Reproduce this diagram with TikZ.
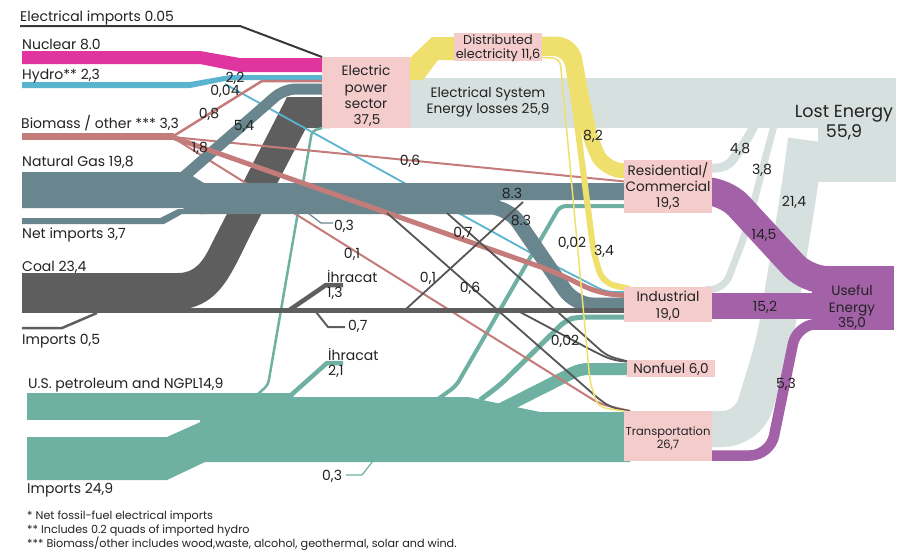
\documentclass[tikz,border=0pt]{standalone}
\usepackage{fontspec}
\setmainfont{Poppins}
\definecolor{ink}{HTML}{222222}
\definecolor{nuc}{HTML}{E0359F}
\definecolor{hyd}{HTML}{5AB4D0}
\definecolor{bio}{HTML}{C47C7A}
\definecolor{gas}{HTML}{69868F}
\definecolor{coal}{HTML}{5E5E5E}
\definecolor{darkln}{HTML}{555555}
\definecolor{pet}{HTML}{6EB1A2}
\definecolor{elec}{HTML}{EFE06D}
\definecolor{boxpink}{HTML}{F4CCCC}
\definecolor{loss}{HTML}{D6E0DE}
\definecolor{use}{HTML}{A362A8}
\begin{document}
\begin{tikzpicture}[x=1pt,y=-1pt,
  every node/.style={inner sep=0pt, text=ink},
  lbl/.style={font=\fontsize{14}{16}\selectfont, anchor=base west},
  num/.style={font=\fontsize{14}{16}\selectfont, anchor=base},
  boxtxt/.style={font=\fontsize{13.6}{16}\selectfont, anchor=base},
  note/.style={font=\fontsize{11.2}{13}\selectfont, anchor=base west},
  sectorbox/.style={fill=boxpink, draw=none}
]
\fill[white] (0,0) rectangle (908,552);
\useasboundingbox (0,0) rectangle (908,552);

% ---------- losses ----------
\fill[loss] (410,78) rectangle (896,128);
\fill[loss] (818,78) rectangle (896,182);
\draw[loss, line width=9pt, rounded corners=10pt] (705,168) -- (727,168) -- (748,138) -- (758,118);
\draw[loss, line width=7pt, rounded corners=14pt] (705,289.5) -- (724,289.5) -- (746,232) -- (768,148) -- (776,118);
\draw[loss, line width=36pt, rounded corners=25pt] (705,429) -- (748,429) -- (775,340) -- (800,185) -- (806,140);

% ---------- electrical imports, nuclear, hydro ----------
\coordinate (eps-tl) at (322,57);
\draw[ink!90, line width=2pt] (20,26) -- (240,26) -- (eps-tl);
\fill[nuc] (22,51) -- (200,51) -- (240,58) -- (330,58) -- (330,72) -- (240,72) -- (200,64) -- (22,64) -- cycle;
\fill[hyd] (22,82) -- (190,82) -- (230,75) -- (330,75) -- (330,80) -- (230,80) -- (190,88) -- (22,88) -- cycle;

% ---------- coal toward power ----------
\fill[coal] (22,273) -- (178,273) .. controls (195,273) and (203,262) .. (212,243) -- (287,97) -- (330,97) -- (330,128) -- (306,128) -- (252,232) .. controls (232,272) and (222,300) .. (190,308) -- (22,308) -- cycle;
\draw[coal, line width=2.5pt] (22,328) -- (62,328) -- (97,313);

% ---------- hydro to industry ----------
\draw[hyd, line width=1.8pt, rounded corners=8pt] (225,84) -- (540,258) -- (606,292) -- (630,292);

% ---------- petroleum ----------
\fill[pet] (27,393) rectangle (205,420);
\fill[pet] (27,437) -- (167,437) -- (205,420) -- (205,462) -- (167,480) -- (27,480) -- cycle;
\fill[pet] (200,393) -- (290,393) -- (294,397) -- (468,397) -- (540,412) -- (630,412) -- (630,462) -- (200,462) -- cycle;
\draw[pet, line width=2.5pt, rounded corners=4pt] (258,394) -- (268,385) -- (312,131) -- (322,128);
\draw[pet, line width=4.5pt] (290,396) -- (327,363) -- (343,363);
\draw[pet, line width=4pt, rounded corners=6pt] (438,399) -- (456,386) -- (560,206) -- (630,206);
\draw[pet, line width=5pt, rounded corners=8pt] (480,400) -- (500,385) -- (566,320) -- (578,317) -- (630,317);
\draw[pet, line width=12pt, rounded corners=8pt] (495,412) -- (580,369) -- (630,369);
\draw[pet, line width=1.2pt] (373,461) -- (362,475) -- (346,475);

% ---------- biomass ----------
\fill[bio] (22,133) rectangle (174,140);
\coordinate (bio-split) at (172,137);
\draw[bio, line width=2.5pt] (bio-split) -- (262,81) -- (330,81);
\draw[bio, line width=2pt] (bio-split) -- (630,182);
\draw[bio, line width=2pt, rounded corners=8pt] (bio-split) -- (600,404) -- (630,411);

% ---------- natural gas ----------
\fill[gas] (22,172) -- (186,172) -- (204,183) -- (630,183) -- (630,200) -- (500,200) -- (500,214) -- (200,214) -- (182,208) -- (22,208) -- cycle;
\fill[gas] (22,218) -- (160,218) -- (178,209) -- (205,209) -- (205,214) -- (182,214) -- (164,224) -- (22,224) -- cycle;
\draw[gas, line width=11pt, rounded corners=12pt] (180,180) -- (284,89) -- (330,89);
\draw[gas, line width=15pt, rounded corners=18pt] (460,207) -- (508,207) -- (575,305) -- (630,305);
\draw[gas, line width=1.2pt] (308,213) -- (321,223) -- (333,223);

\draw[bio, line width=5pt, rounded corners=15pt] (bio-split) -- (555,272) -- (598,293) -- (630,296);

% ---------- thin dark links ----------
\draw[darkln, line width=1.8pt, rounded corners=8pt] (387,213) -- (600,400) -- (612,408) -- (630,411);
\draw[darkln, line width=1.8pt, rounded corners=8pt] (447,213) -- (607,356) -- (630,362);
\draw[darkln, line width=1.8pt, rounded corners=8pt] (520,312) -- (595,352) -- (612,360) -- (630,362);
\draw[darkln, line width=1.8pt] (405,310) -- (523,202);

% ---------- coal line ----------
\draw[coal, line width=5pt] (22,310.5) -- (630,310.5);
\draw[coal, line width=4.5pt] (288,311) -- (326,285) -- (343,285);
\draw[coal, line width=2pt] (316,312) -- (328,327) -- (345,327);

% ---------- electricity distribution ----------
\fill[elec] (410,58) -- (432,37) -- (456,37) -- (456,60) -- (438,60) -- (423,80) -- (410,80) -- cycle;
\draw[elec, line width=1.5pt, rounded corners=8pt] (535,57.5) -- (560,58) -- (563,90) -- (590,382) -- (598,407) -- (630,412);
\draw[elec, line width=6pt, rounded corners=12pt] (535,53) -- (566,53) -- (574,100) -- (594,255) -- (603,283) -- (630,289);
\draw[elec, line width=15pt, rounded corners=16pt] (535,44) -- (572,44) -- (581,95) -- (592,145) -- (606,170) -- (630,171);

% ---------- useful energy ----------
\draw[use, line width=28pt, rounded corners=20pt] (705,191) -- (725,191) -- (807,280) -- (830,280);
\fill[use] (705,293) rectangle (812,319);
\draw[use, line width=10.5pt, rounded corners=20pt] (705,455.5) -- (770,455.5) -- (797,324) -- (830,324);
\fill[use] (812,266) rectangle (894,330);

% ---------- sector boxes ----------
\fill[sectorbox] (322,57) rectangle (410,128);
\fill[sectorbox] (454,33) rectangle (542,61);
\fill[sectorbox] (624,160) rectangle (712,213);
\fill[sectorbox] (624,287) rectangle (712,322);
\fill[sectorbox] (627,360) rectangle (715,377);
\fill[sectorbox] (624,411) rectangle (712,461);

% ---------- source labels ----------
\node[lbl] (l-imp) at (20,21) {Electrical imports 0.05};
\node[lbl] (l-nuc) at (22,49) {Nuclear 8.0};
\node[lbl] (l-hyd) at (22,79) {Hydro** 2,3};
\node[lbl] (l-bio) at (21,128) {Biomass / other *** 3,3};
\node[lbl] (l-gas) at (22,166) {Natural Gas 19,8};
\node[lbl] (l-gimp) at (22,238) {Net imports 3,7};
\node[lbl] (l-coal) at (22,271) {Coal 23,4};
\node[lbl] (l-cimp) at (22,344) {Imports 0,5};
\node[lbl] (l-pet) at (28,388) {U.S. petroleum and NGPL14,9};
\node[lbl] (l-pimp) at (27,493) {Imports 24,9};
\node[note] (n1) at (27,519) {* Net fossil-fuel electrical imports};
\node[note] (n2) at (27,533) {** Includes 0.2 quads of imported hydro};
\node[note] (n3) at (27,547) {*** Biomass/other includes wood,waste, alcohol, geothermal, solar and wind.};

% ---------- flow values ----------
\node[num] (v1) at (235,82) {2,2};
\node[num] (v2) at (225,95) {0,04};
\node[num] (v3) at (209,118) {0,8};
\node[num] (v4) at (244,130) {5,4};
\node[num] (v5) at (200,152) {1,8};
\node[num] (v6) at (410,165) {0,6};
\node[num] (v7) at (512,198) {8.3};
\node[num] (v8) at (521,225) {8.3};
\node[num] (v9) at (344,230) {0,3};
\node[num] (v10) at (352,258) {0,1};
\node[num] (v11) at (463,237) {0,7};
\node[num] (v12) at (428,282) {0,1};
\node[num] (v13) at (470,292) {0,6};
\node[num] (v14) at (565,345) {0,02};
\node[num] (v15) at (572,247) {0,02};
\node[num] (v16) at (604,255) {3,4};
\node[num] (v17) at (593,140) {8,2};
\node[lbl] (x1) at (327,282) {İhracat};
\node[lbl] (x1v) at (327,297) {1,3};
\node[lbl] (v18) at (348,330) {0,7};
\node[lbl] (x2) at (328,360) {İhracat};
\node[lbl] (x2v) at (328,375) {2,1};
\node[lbl] (v19) at (322,480) {0,3};
\node[num] (v20) at (740,153) {4,8};
\node[num] (v21) at (762,174) {3,8};
\node[num] (v22) at (794,206) {21,4};
\node[num] (v23) at (764,239) {14,5};
\node[num] (v24) at (765,311) {15,2};
\node[num] (v25) at (786,388) {5,3};

% ---------- box labels ----------
\node[boxtxt] (eps1) at (366,75) {Electric};
\node[boxtxt] (eps2) at (366,92) {power};
\node[boxtxt] (eps3) at (366,108) {sector};
\node[boxtxt] (eps4) at (367,124) {37,5};
\node[boxtxt, font=\fontsize{12.8}{14}\selectfont] (de1) at (498,44.5) {Distributed};
\node[boxtxt, font=\fontsize{12.8}{14}\selectfont] (de2) at (498,58) {electricity 11,6};
\node[boxtxt] (es1) at (488,97) {Electrical System};
\node[boxtxt] (es2) at (488,113) {Energy losses 25,9};
\node[boxtxt, font=\fontsize{17.5}{20}\selectfont] (le1) at (844,117) {Lost Energy};
\node[boxtxt, font=\fontsize{17.5}{20}\selectfont] (le2) at (844,137) {55,9};
\node[boxtxt] (rc1) at (668,175) {Residential/};
\node[boxtxt] (rc2) at (668,191) {Commercial};
\node[boxtxt] (rc3) at (668,207) {19,3};
\node[boxtxt] (in1) at (668,301) {Industrial};
\node[boxtxt] (in2) at (668,318) {19,0};
\node[boxtxt] (nf1) at (671,373) {Nonfuel 6,0};
\node[boxtxt, font=\fontsize{11.5}{13}\selectfont] (tr1) at (668,435) {Transportation};
\node[boxtxt, font=\fontsize{11.5}{13}\selectfont] (tr2) at (668,448) {26,7};
\node[boxtxt] (ue1) at (852,295) {Useful};
\node[boxtxt] (ue2) at (852,312) {Energy};
\node[boxtxt] (ue3) at (852,327) {35,0};
\end{tikzpicture}
\end{document}
